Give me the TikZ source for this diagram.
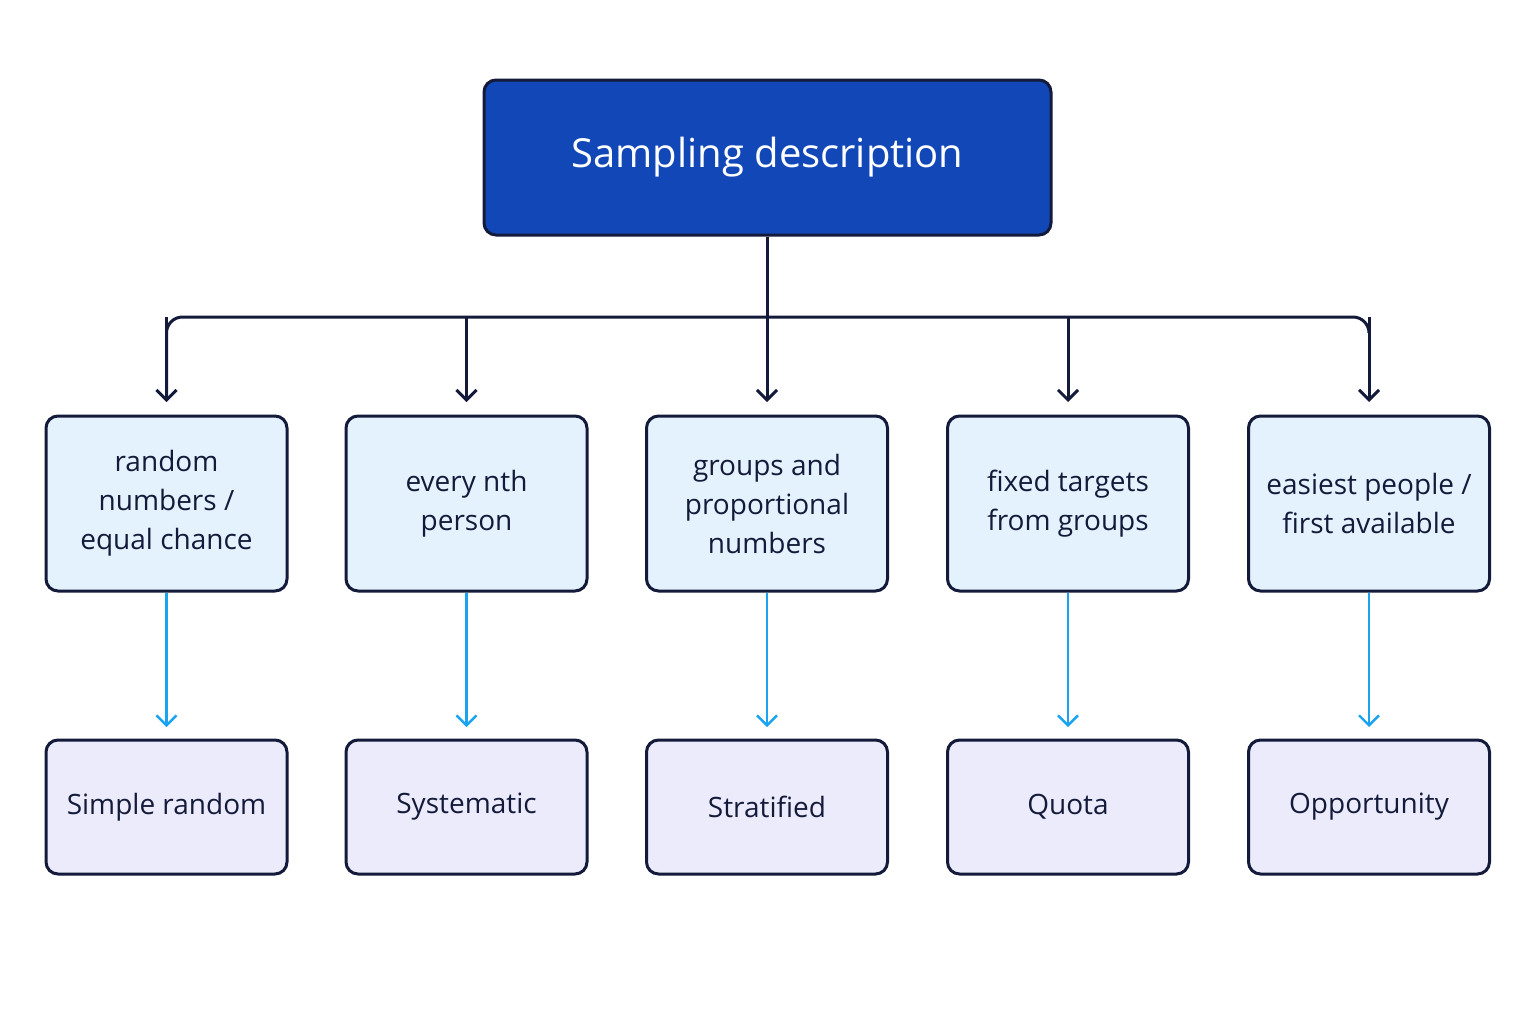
\documentclass[tikz,border=0pt]{standalone}
\usepackage{fontspec}
\setmainfont{Open Sans}
\usetikzlibrary{arrows.meta}
\definecolor{navy}{HTML}{141B3A}
\definecolor{topblue}{HTML}{1247B8}
\definecolor{midfill}{HTML}{E3F2FD}
\definecolor{botfill}{HTML}{ECEBFB}
\definecolor{sky}{HTML}{1AA3F0}
\begin{document}
\begin{tikzpicture}[x=0.5pt,y=-0.5pt,
  box/.style={draw=navy,line width=1.5pt,rounded corners=6pt,minimum width=120.5pt,align=center,font=\fontsize{14}{19.5}\selectfont,text=navy},
  midbox/.style={box,fill=midfill,minimum height=87.5pt},
  botbox/.style={box,fill=botfill,minimum height=67pt},
  darr/.style={draw=navy,line width=1.5pt,-{Straight Barb[length=5pt,width=10pt]}},
  barr/.style={draw=sky,line width=1.2pt,-{Straight Barb[length=5pt,width=10pt]}}]
\useasboundingbox (0,0) rectangle (1536,1024);
\fill[white] (0,0) rectangle (1536,1024);
\node[draw=navy,line width=1.5pt,fill=topblue,rounded corners=6pt,minimum width=283.5pt,minimum height=77.5pt,text=white,font=\fontsize{20}{24}\selectfont] (top) at (767.5,157.5) {Sampling description};
\foreach \n/\x/\a/\b in {1/166.5/{random\\numbers /\\equal chance}/Simple random,
  2/466.5/{every nth\\person}/Systematic,
  3/767/{groups and\\proportional\\numbers}/Stratified,
  4/1068/{fixed targets\\from groups}/Quota,
  5/1369/{easiest people /\\first available}/Opportunity}{
  \node[midbox] (m\n) at (\x,503.5) {\a};
  \node[botbox] (b\n) at (\x,807) {\b};
  \coordinate (t\n) at (\x,402);
  \draw[barr] (m\n.south) -- (\x,727);
}
\coordinate (j) at (767.5,317);
\draw[draw=navy,line width=1.5pt] (top.south) -- (j);
\draw[draw=navy,line width=1.5pt,rounded corners=8pt] (t1|-j) ++(0,80) -- (t1|-j) -- (t5|-j) -- ++(0,10);
\foreach \n in {1,...,5} \draw[darr] (t\n|-j) -- (t\n);
\end{tikzpicture}
\end{document}
